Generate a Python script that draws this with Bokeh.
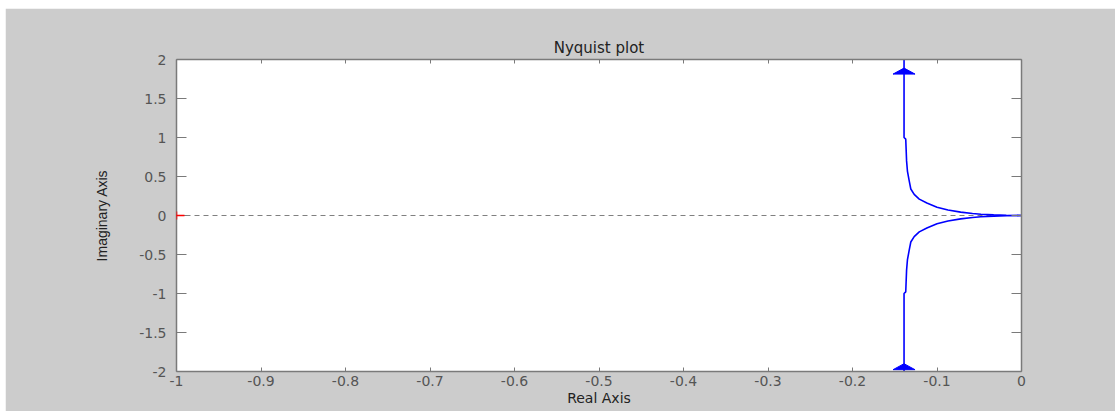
from bokeh.plotting import figure
from bokeh.models import Range1d, LinearAxis, FixedTicker, Arrow
from bokeh.embed import file_html
from bokeh.resources import INLINE

# Upper branch of the Nyquist curve (positive frequencies)
re_upper = [-0.139, -0.139, -0.137, -0.136, -0.135, -0.133, -0.131, -0.127, -0.121,
            -0.112, -0.100, -0.087, -0.072, -0.058, -0.048, -0.033, -0.018, 0.0]
im_upper = [2.0, 1.0, 0.98, 0.70, 0.57, 0.45, 0.34, 0.27, 0.21,
            0.16, 0.107, 0.07, 0.043, 0.025, 0.017, 0.008, 0.003, 0.0]
# Negative frequencies: complex conjugate of the upper branch
re_lower = list(re_upper)
im_lower = [-v for v in im_upper]

# Direction arrows on the vertical asymptote (tip positions)
arrow_re = [-0.139, -0.139]
arrow_im = [1.89, -1.90]

# Critical point and real-axis guide
crit_re = [-1.0]
crit_im = [0.0]
guide_re = [-1.0, 0.0]
guide_im = [0.0, 0.0]

x_ticks = [-1.0, -0.9, -0.8, -0.7, -0.6, -0.5, -0.4, -0.3, -0.2, -0.1, 0.0]
x_labels = ["-1", "-0.9", "-0.8", "-0.7", "-0.6", "-0.5", "-0.4", "-0.3", "-0.2", "-0.1", "0"]
y_ticks = [-2.0, -1.5, -1.0, -0.5, 0.0, 0.5, 1.0, 1.5, 2.0]
y_labels = ["-2", "-1.5", "-1", "-0.5", "0", "0.5", "1", "1.5", "2"]

X0, X1 = -1.0, 0.0
Y0, Y1 = -2.0, 2.0
FRAME_W, FRAME_H = 845, 312

p = figure(width=1110, height=403, output_backend="svg", toolbar_location=None,
           x_range=Range1d(X0, X1), y_range=Range1d(Y0, Y1),
           x_axis_type=None, y_axis_type=None,
           min_border_left=171, min_border_right=94, min_border_top=51, min_border_bottom=40,
           background_fill_color="white", border_fill_color="#cccccc",
           outline_line_color=None, margin=(8, 0, 0, 5))
p.grid.visible = False

TICK_FONT = "DejaVu Sans"
GRAY = "#7a7a7a"


def make_axis(ticks, labels, tick_len, show_labels):
    ax = LinearAxis(ticker=FixedTicker(ticks=ticks))
    ax.axis_line_color = GRAY
    ax.axis_line_width = 1.5
    ax.major_tick_line_color = GRAY
    ax.major_tick_line_width = 1
    ax.major_tick_in = tick_len
    ax.major_tick_out = 0
    ax.minor_tick_line_color = None
    if show_labels:
        ax.major_label_overrides = dict(zip(ticks, labels))
        ax.major_label_text_font = TICK_FONT
        ax.major_label_text_color = "#555555"
        ax.major_label_text_font_size = "14px"
    else:
        # tick marks only on the opposite sides of the box
        ax.major_label_text_color = None
        ax.major_label_text_font_size = "1px"
        ax.major_label_standoff = 0
    return ax


xb = make_axis(x_ticks, x_labels, 4, True)
xb.major_label_standoff = 4
xb.axis_label = "Real Axis"
xb.axis_label_text_font = TICK_FONT
xb.axis_label_text_font_size = "14px"
xb.axis_label_text_font_style = "normal"
xb.axis_label_text_color = "#222222"
xb.axis_label_standoff = 1
p.add_layout(xb, "below")

yl = make_axis(y_ticks, y_labels, 10, True)
yl.major_label_standoff = 10
yl.axis_label = "Imaginary Axis"
yl.axis_label_text_font = "Liberation Sans"
yl.axis_label_text_font_size = "14px"
yl.axis_label_text_font_style = "normal"
yl.axis_label_text_color = "#222222"
yl.axis_label_standoff = 26
p.add_layout(yl, "left")

p.add_layout(make_axis(x_ticks, x_labels, 4, False), "above")
p.add_layout(make_axis(y_ticks, y_labels, 10, False), "right")

p.title.text = "Nyquist plot"
p.title.align = "center"
p.title.text_font = TICK_FONT
p.title.text_font_size = "15px"
p.title.text_font_style = "normal"
p.title.text_color = "#222222"
p.title.standoff = 5

# dashed real axis guide
p.line(guide_re, guide_im, line_color="#808080", line_width=1, line_dash="5 4")

# Nyquist branches
p.line(re_upper, im_upper, line_color="#0000ff", line_width=1.6)
p.line(re_lower, im_lower, line_color="#0000ff", line_width=1.6)

# arrow heads: flat triangles, sized in pixels and converted to data units
px_x = (X1 - X0) / FRAME_W
px_y = (Y1 - Y0) / FRAME_H
head_w_px, head_h_px = 22, 6
hw = head_w_px / 2 * px_x
hh = head_h_px * px_y
xs = [[x - hw, x, x + hw] for x in arrow_re]
ys = [[y - hh, y, y - hh] for y in arrow_im]
p.patches(xs, ys, fill_color="#0000ff", line_color="#0000ff", line_width=1)

# critical point marker (-1, 0): red plus drawn over the axis line
for cx, cy in zip(crit_re, crit_im):
    p.add_layout(Arrow(x_start=cx - 8 * px_x, y_start=cy, x_end=cx + 8 * px_x, y_end=cy,
                       start=None, end=None, line_color="red", line_width=1.5, level="overlay"))
    p.add_layout(Arrow(x_start=cx, y_start=cy - 4 * px_y, x_end=cx, y_end=cy + 4 * px_y,
                       start=None, end=None, line_color="red", line_width=1.5, level="overlay"))

open("out.html", "w").write(file_html(p, INLINE))
